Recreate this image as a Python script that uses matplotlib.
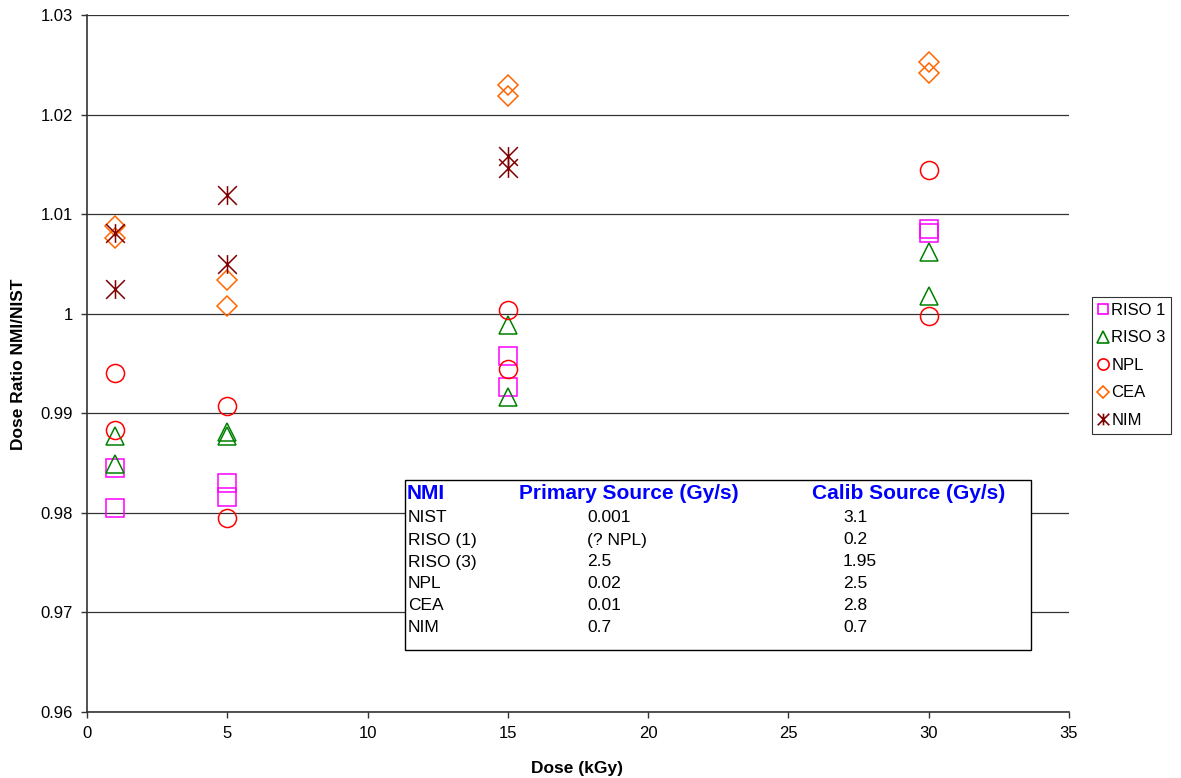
import numpy as np
import matplotlib
matplotlib.use("Agg")
import matplotlib.pyplot as plt
from matplotlib.path import Path
from matplotlib.lines import Line2D
from matplotlib.patches import Rectangle
from matplotlib.ticker import FuncFormatter, MultipleLocator

plt.rcParams["font.family"] = ["Liberation Sans", "DejaVu Sans"]

# dose ratio NMI/NIST, two readings per dose
riso1_dose = [1, 1, 5, 5, 15, 15, 30, 30]
riso1_val = [0.9845, 0.9805, 0.9830, 0.9816, 0.9958, 0.9926, 1.0085, 1.0081]
riso3_dose = [1, 1, 5, 5, 15, 15, 30, 30]
riso3_val = [0.9877, 0.9849, 0.9881, 0.9877, 0.9989, 0.9916, 1.0062, 1.0018]
npl_dose = [1, 1, 5, 5, 15, 15, 30, 30]
npl_val = [0.9940, 0.9883, 0.9907, 0.9795, 1.0004, 0.9944, 1.0144, 0.9998]
cea_dose = [1, 1, 5, 5, 15, 15, 30, 30]
cea_val = [1.0088, 1.0076, 1.0034, 1.0008, 1.0230, 1.0219, 1.0253, 1.0242]
nim_dose = [1, 1, 5, 5, 15, 15]
nim_val = [1.0081, 1.0025, 1.0119, 1.0050, 1.0158, 1.0146]

# source table in the inset box
table_head = ["NMI", "Primary Source (Gy/s)", "Calib Source (Gy/s)"]
table_nmi = ["NIST", "RISO (1)", "RISO (3)", "NPL", "CEA", "NIM"]
table_primary = ["0.001", "(? NPL)", "2.5", "0.02", "0.01", "0.7"]
table_calib = ["3.1", "0.2", "1.95", "2.5", "2.8", "0.7"]

# excel style "star": X with a vertical stroke
STAR = Path([(-1, -1), (1, 1), (-1, 1), (1, -1), (0, -1), (0, 1)],
            [Path.MOVETO, Path.LINETO, Path.MOVETO, Path.LINETO, Path.MOVETO, Path.LINETO])

W, H = 1181, 778
fig = plt.figure(figsize=(W / 100, H / 100), dpi=100)
ax = fig.add_axes([87 / W, 1 - 712 / H, (1069 - 87) / W, (712 - 15) / H])

series = [
    ("RISO 1", riso1_dose, riso1_val, "s", "#FF00FF", 12.5),
    ("RISO 3", riso3_dose, riso3_val, "^", "#008000", 13),
    ("NPL", npl_dose, npl_val, "o", "#FF0000", 13),
    ("CEA", cea_dose, cea_val, "D", "#FF6600", 10),
    ("NIM", nim_dose, nim_val, STAR, "#800000", 13.5),
]
handles = []
for name, xs, ys, mk, col, ms in series:
    ax.plot(xs, ys, ls="none", marker=mk, ms=ms, mfc="none", mec=col, mew=1.1, zorder=3)
    handles.append(Line2D([], [], ls="none", marker=mk, ms=ms * 0.62, mfc="none",
                          mec=col, mew=1.2, label=name))

ax.set_xlim(0, 35)
ax.set_ylim(0.96, 1.03)
ax.xaxis.set_major_locator(MultipleLocator(5))
ax.yaxis.set_major_locator(MultipleLocator(0.01))
ax.yaxis.set_major_formatter(FuncFormatter(lambda v, p: "%g" % round(v, 4)))
ax.grid(axis="y", color="#333333", lw=0.9)
ax.set_axisbelow(True)
for s in ("top", "right"):
    ax.spines[s].set_visible(False)
for s in ("left", "bottom"):
    ax.spines[s].set_color("#333333")
    ax.spines[s].set_linewidth(1.2)
ax.tick_params(direction="out", length=4, width=1, color="#333333", labelsize=12, pad=6)

fig.text(577 / W, 1 - 768 / H, "Dose (kGy)", ha="center", va="center", fontsize=12.5, fontweight="bold")
fig.text(19 / W, 1 - 364 / H, "Dose Ratio NMI/NIST", ha="center", va="center", rotation=90,
         fontsize=12.5, fontweight="bold")

leg = fig.legend(handles=handles, loc="upper left", bbox_to_anchor=(1092 / W, 1 - 297 / H),
                 fontsize=12, frameon=True, fancybox=False, handlelength=0.6, handletextpad=0.2,
                 borderpad=0.35, labelspacing=0.75, borderaxespad=0)
leg.get_frame().set_edgecolor("black")
leg.get_frame().set_linewidth(0.8)

# inset table box
fig.patches.append(Rectangle((405 / W, 1 - 650 / H), (1031 - 405) / W, (650 - 480) / H,
                             transform=fig.transFigure, facecolor="white", edgecolor="black",
                             lw=1.0, zorder=5))
hx = [407, 519, 812]
for x, t in zip(hx, table_head):
    fig.text(x / W, 1 - 494 / H, t, ha="left", va="center", fontsize=15, fontweight="bold",
             color="#0000FF", zorder=6)
row_y = [518, 540, 562, 584, 605, 627]
for y, a, b, c in zip(row_y, table_nmi, table_primary, table_calib):
    fig.text(408 / W, 1 - y / H, a, ha="left", va="center", fontsize=12.5, zorder=6)
    fig.text(587 / W, 1 - y / H, b, ha="left", va="center", fontsize=12.5, zorder=6)
    fig.text(843 / W, 1 - y / H, c, ha="left", va="center", fontsize=12.5, zorder=6)

fig.savefig("out.png", dpi=100)
